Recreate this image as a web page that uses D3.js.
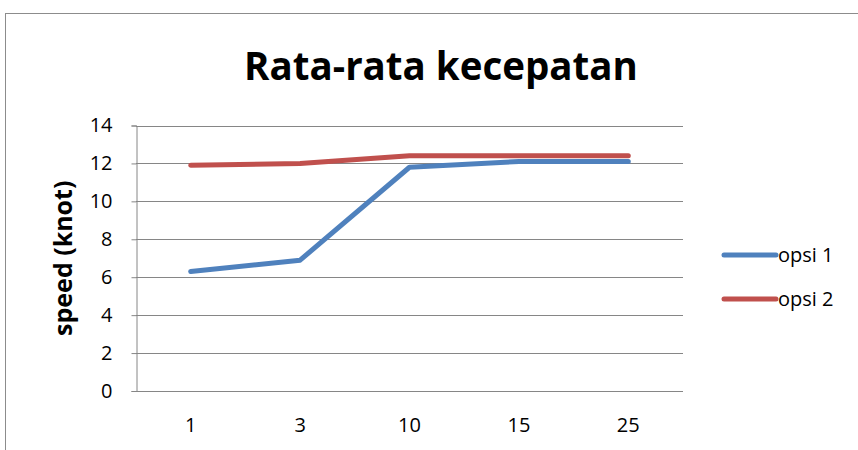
<!DOCTYPE html>
<html>
<head>
<meta charset="utf-8">
<script src="https://cdn.jsdelivr.net/npm/d3@7"></script>
<style>
  html, body { margin: 0; padding: 0; background: #fff; }
  svg { display: block; }
</style>
</head>
<body>
<svg id="chart" width="858" height="450"></svg>
<script>
const categories = ["1", "3", "10", "15", "25"];
const opsi1 = [6.3, 6.9, 11.8, 12.1, 12.1];
const opsi2 = [11.9, 12.0, 12.4, 12.4, 12.4];
const yTicks = [0, 2, 4, 6, 8, 10, 12, 14];
const seriesNames = ["opsi 1", "opsi 2"];
const seriesColors = ["#4F81BD", "#C0504D"];

const font = "'Open Sans', 'Liberation Sans', sans-serif";
const svg = d3.select("#chart");

// chart frame
svg.append("rect")
  .attr("x", 5.5).attr("y", 13.5)
  .attr("width", 900).attr("height", 500)
  .attr("fill", "#fff").attr("stroke", "#8c8c8c").attr("stroke-width", 1);

const plot = { left: 136, right: 683, top: 125.5, bottom: 391 };

const x = d3.scaleBand().domain(categories).range([plot.left, plot.right]);
const y = d3.scaleLinear().domain([0, 14]).range([plot.bottom, plot.top]);

// horizontal gridlines
svg.append("g").selectAll("line").data(yTicks.filter(d => d > 0)).join("line")
  .attr("x1", plot.left).attr("x2", plot.right)
  .attr("y1", d => Math.round(y(d)) + 0.5).attr("y2", d => Math.round(y(d)) + 0.5)
  .attr("stroke", "#868686").attr("stroke-width", 1);

// y axis
const yAxis = svg.append("g")
  .attr("transform", `translate(${plot.left + 0.5},0)`)
  .call(d3.axisLeft(y).tickValues(yTicks).tickSize(5).tickPadding(19).tickFormat(d3.format("d")));
yAxis.select(".domain").attr("stroke", "#868686");
yAxis.selectAll(".tick line").attr("stroke", "#868686");
yAxis.selectAll(".tick text").attr("font-family", font).attr("font-size", 20).attr("fill", "#000");

// x axis
const xAxis = svg.append("g")
  .attr("transform", `translate(0,${Math.round(plot.bottom) + 0.5})`)
  .call(d3.axisBottom(x).tickSize(0).tickPadding(26));
xAxis.select(".domain").attr("stroke", "#868686").attr("d", `M${plot.left},0H${plot.right}`);
xAxis.selectAll(".tick text").attr("font-family", font).attr("font-size", 20).attr("fill", "#000");

// lines
const line = d3.line()
  .x((d, i) => x(categories[i]) + x.bandwidth() / 2)
  .y(d => y(d));

[opsi1, opsi2].forEach((vals, i) => {
  svg.append("path")
    .datum(vals)
    .attr("d", line)
    .attr("fill", "none")
    .attr("stroke", seriesColors[i])
    .attr("stroke-width", 5)
    .attr("stroke-linecap", "round")
    .attr("stroke-linejoin", "round");
});

// title
svg.append("text")
  .attr("x", 441).attr("y", 80)
  .attr("text-anchor", "middle")
  .attr("font-family", font).attr("font-weight", "bold").attr("font-size", 38.5)
  .attr("fill", "#000")
  .text("Rata-rata kecepatan");

// y axis title
svg.append("text")
  .attr("transform", `translate(72,${(plot.top + plot.bottom) / 2}) rotate(-90)`)
  .attr("text-anchor", "middle")
  .attr("font-family", font).attr("font-weight", "bold").attr("font-size", 25)
  .attr("fill", "#000")
  .text("speed (knot)");

// legend
const legend = svg.append("g");
seriesNames.forEach((name, i) => {
  const ly = 255 + i * 44;
  legend.append("line")
    .attr("x1", 724).attr("x2", 776).attr("y1", ly).attr("y2", ly)
    .attr("stroke", seriesColors[i]).attr("stroke-width", 5).attr("stroke-linecap", "round");
  legend.append("text")
    .attr("x", 778).attr("y", ly + 7)
    .attr("font-family", font).attr("font-size", 20).attr("fill", "#000")
    .text(name);
});
</script>
</body>
</html>
